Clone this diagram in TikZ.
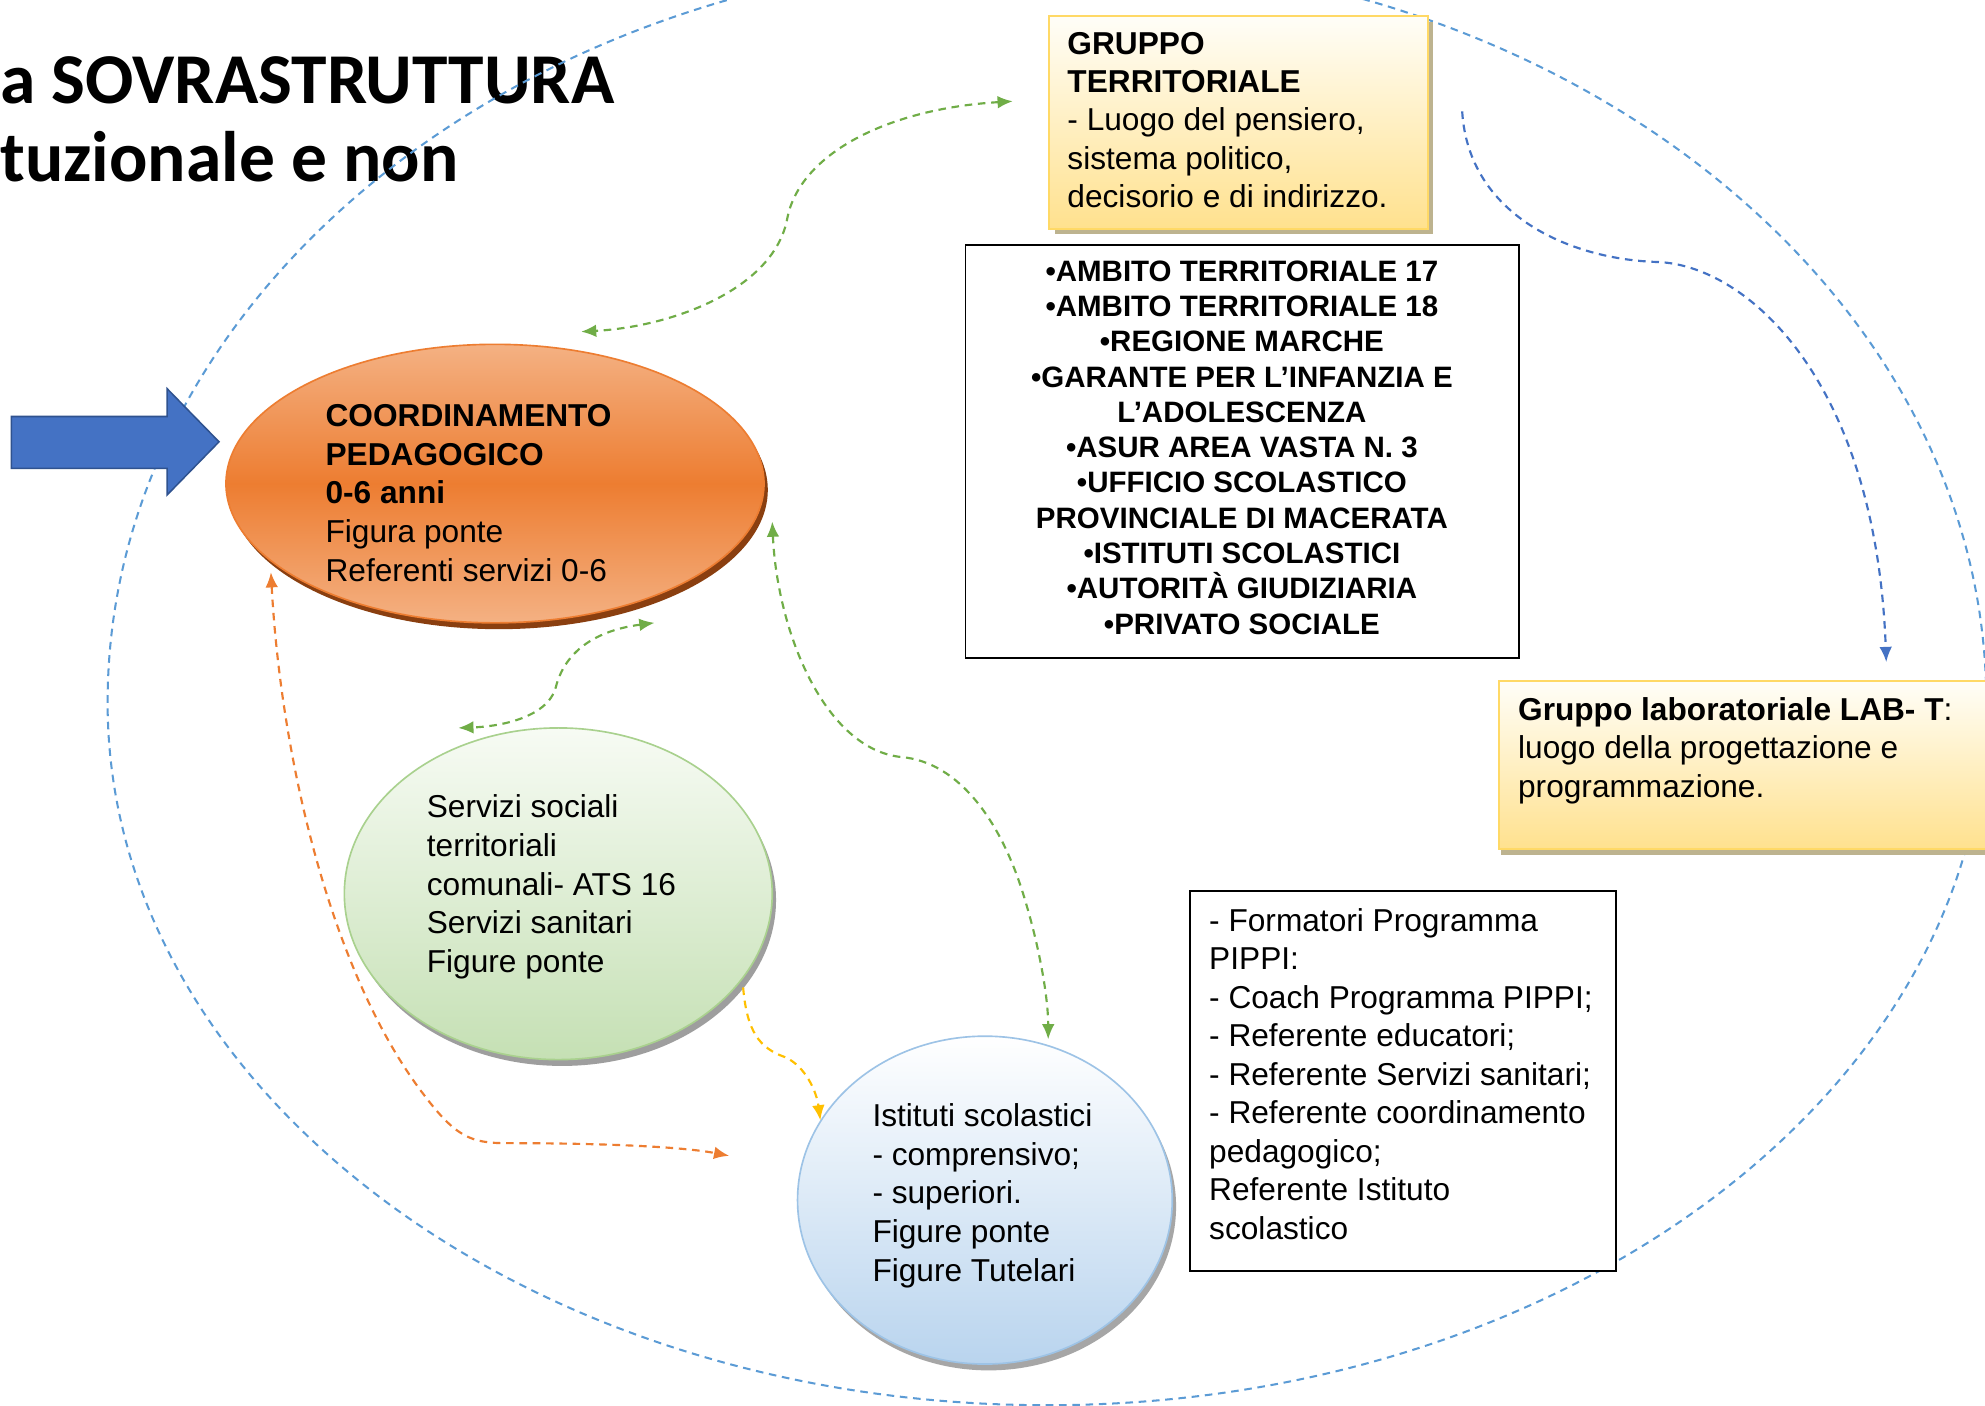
\documentclass[tikz,border=0pt]{standalone}
\usepackage{fontspec}
\setmainfont{Liberation Sans}
\newfontfamily\titlefont{Carlito}
\usetikzlibrary{shapes.geometric,arrows.meta}
\definecolor{ringblue}{HTML}{5B9BD5}
\definecolor{arrowblue}{HTML}{4472C4}
\definecolor{arrowblueD}{HTML}{2F528F}
\definecolor{orL}{HTML}{F4B183}
\definecolor{orM}{HTML}{ED7D31}
\definecolor{orS}{HTML}{8A3F10}
\definecolor{grT}{HTML}{F7FBF4}
\definecolor{grB}{HTML}{C5E0B4}
\definecolor{grE}{HTML}{A9D18E}
\definecolor{blT}{HTML}{FFFFFF}
\definecolor{blB}{HTML}{B9D4EE}
\definecolor{blE}{HTML}{9DC3E6}
\definecolor{goT}{HTML}{FFFEF8}
\definecolor{goB}{HTML}{FFE18E}
\definecolor{goE}{HTML}{FFD966}
\definecolor{goS}{HTML}{BDB38F}
\definecolor{lgreen}{HTML}{70AD47}
\definecolor{lorange}{HTML}{ED7D31}
\definecolor{lyellow}{HTML}{FFC000}
\tikzset{
  body/.style={font=\fontsize{25}{30.5}\selectfont, inner sep=0pt, align=left, anchor=base west},
  link/.style={line width=1.7pt, dash pattern=on 6pt off 4.5pt},
  oval/.style={ellipse, inner sep=0pt, line width=1.3pt},
  shadowoval/.style={ellipse, inner sep=0pt, fill=#1},
  goldbox/.style={rectangle, inner sep=0pt, anchor=north west, top color=goT, bottom color=goB, draw=goE, line width=1.8pt},
  plainbox/.style={rectangle, inner sep=0pt, anchor=north west, draw=black, line width=1.4pt, fill=white},
  >={Latex[length=12pt,width=10pt]}
}
\begin{document}
\begin{tikzpicture}[x=1pt,y=-1pt]
\useasboundingbox (0,0) rectangle (1568,1110);
\fill[white] (0,0) rectangle (1568,1110);

% title (anchor = baseline of the last line)
\node[inner sep=0pt, align=left, anchor=base west, font=\titlefont\bfseries\fontsize{56.5}{61}\selectfont] (title) at (0,143) {a SOVRASTRUTTURA\\tuzionale e non};

% outer ring: taller upper half, flatter lower half
\coordinate (ringw) at (85,555);
\draw[ringblue, line width=1.6pt, dash pattern=on 6pt off 4.5pt] (ringw)
  arc[start angle=180, end angle=360, x radius=742, y radius=590]
  arc[start angle=0, end angle=180, x radius=742, y radius=555] -- cycle;

% big blue arrow
\draw[fill=arrowblue, draw=arrowblueD, line width=1.2pt] (9,329) -- (132,329) -- (132,307) -- (173,349) -- (132,391) -- (132,370) -- (9,370) -- cycle;

% orange ellipse
\node[shadowoval=orS, minimum width=425, minimum height=220] (coordsh) at (394,387) {};
\node[oval, minimum width=425, minimum height=220, top color=orL, bottom color=orL, middle color=orM, draw=orM] (coord) at (391,382) {};
\node[body] (coordtxt) at (257,459) {\textbf{COORDINAMENTO}\\\textbf{PEDAGOGICO}\\\textbf{0-6 anni}\\Figura ponte\\Referenti servizi 0-6};

% green ellipse
\node[shadowoval=black!38, minimum width=338, minimum height=262] (servsh) at (444,711) {};
\node[oval, minimum width=338, minimum height=262, top color=grT, bottom color=grB, draw=grE] (serv) at (441,706) {};
\node[body] (servtxt) at (337,768) {Servizi sociali\\territoriali\\comunali- ATS 16\\Servizi sanitari\\Figure ponte};

% blue ellipse
\node[shadowoval=black!35, minimum width=296, minimum height=259] (istsh) at (781,953) {};
\node[oval, minimum width=296, minimum height=259, top color=blT, bottom color=blB, draw=blE] (ist) at (778,948) {};
\node[body] (isttxt) at (689,1012) {Istituti scolastici\\- comprensivo;\\- superiori.\\Figure ponte\\Figure Tutelari};

% gruppo territoriale
\fill[goS] (833,17) rectangle (1132,185);
\node[goldbox, minimum width=299, minimum height=168] (gruppo) at (828,12) {};
\node[body, font=\fontsize{25}{30.3}\selectfont] (gruppotxt) at (843,164) {\textbf{GRUPPO}\\\textbf{TERRITORIALE}\\- Luogo del pensiero,\\sistema politico,\\decisorio e di indirizzo.};

% ambito box
\node[plainbox, minimum width=437, minimum height=326] (ambiti) at (762,193) {};
\node[inner sep=0pt, align=center, anchor=base, font=\bfseries\fontsize{23.3}{27.9}\selectfont] (ambtxt) at (981,501) {•AMBITO TERRITORIALE 17\\•AMBITO TERRITORIALE 18\\•REGIONE MARCHE\\•GARANTE PER L’INFANZIA E\\L’ADOLESCENZA\\•ASUR AREA VASTA N. 3\\•UFFICIO SCOLASTICO\\PROVINCIALE DI MACERATA\\•ISTITUTI SCOLASTICI\\•AUTORITÀ GIUDIZIARIA\\•PRIVATO SOCIALE};

% gruppo laboratoriale
\fill[goS] (1186,542) rectangle (1600,675);
\node[goldbox, minimum width=420, minimum height=133] (lab) at (1183,537) {};
\node[body] (labtxt) at (1199,630) {\textbf{Gruppo laboratoriale LAB- T}:\\luogo della progettazione e\\programmazione.};

% formatori box
\node[plainbox, minimum width=337, minimum height=300] (form) at (939,703) {};
\node[body, font=\fontsize{25}{30.4}\selectfont] (formtxt) at (955,979) {- Formatori Programma\\PIPPI:\\- Coach Programma PIPPI;\\- Referente educatori;\\- Referente Servizi sanitari;\\- Referente coordinamento\\pedagogico;\\Referente Istituto\\scolastico};

% connector end points
\coordinate (c1a) at (800,80);
\coordinate (c1b) at (459,262);
\coordinate (c2a) at (517,492);
\coordinate (c2b) at (362,575);
\coordinate (c3a) at (610,412);
\coordinate (c3b) at (828,821);
\coordinate (c4a) at (214,452);
\coordinate (c4b) at (576,913);
\coordinate (c5a) at (587,780);
\coordinate (c5b) at (648,885);
\coordinate (c6a) at (1155,88);
\coordinate (c6b) at (1490,523);

% connectors
\draw[link, lgreen, <->] (c1a) .. controls (700,86) and (632,122) .. (622,172) .. controls (612,228) and (532,258) .. (c1b);
\draw[link, lgreen, <->] (c2a) .. controls (470,498) and (446,515) .. (439,543) .. controls (432,568) and (392,574) .. (c2b);
\draw[link, lgreen, <->] (c3a) .. controls (614,500) and (652,592) .. (712,598) .. controls (758,602) and (792,650) .. (810,712) .. controls (822,752) and (828,790) .. (c3b);
\draw[link, lorange, <->] (c4a) .. controls (222,600) and (262,770) .. (335,865) .. controls (360,898) and (372,903) .. (400,903) .. controls (480,903) and (540,906) .. (c4b);
\draw[link, lyellow, ->] (c5a) .. controls (590,815) and (600,828) .. (620,835) .. controls (636,842) and (645,862) .. (c5b);
\draw[link, arrowblue, ->] (c6a) .. controls (1160,170) and (1240,205) .. (1310,207) .. controls (1380,210) and (1482,300) .. (c6b);
\end{tikzpicture}
\end{document}
